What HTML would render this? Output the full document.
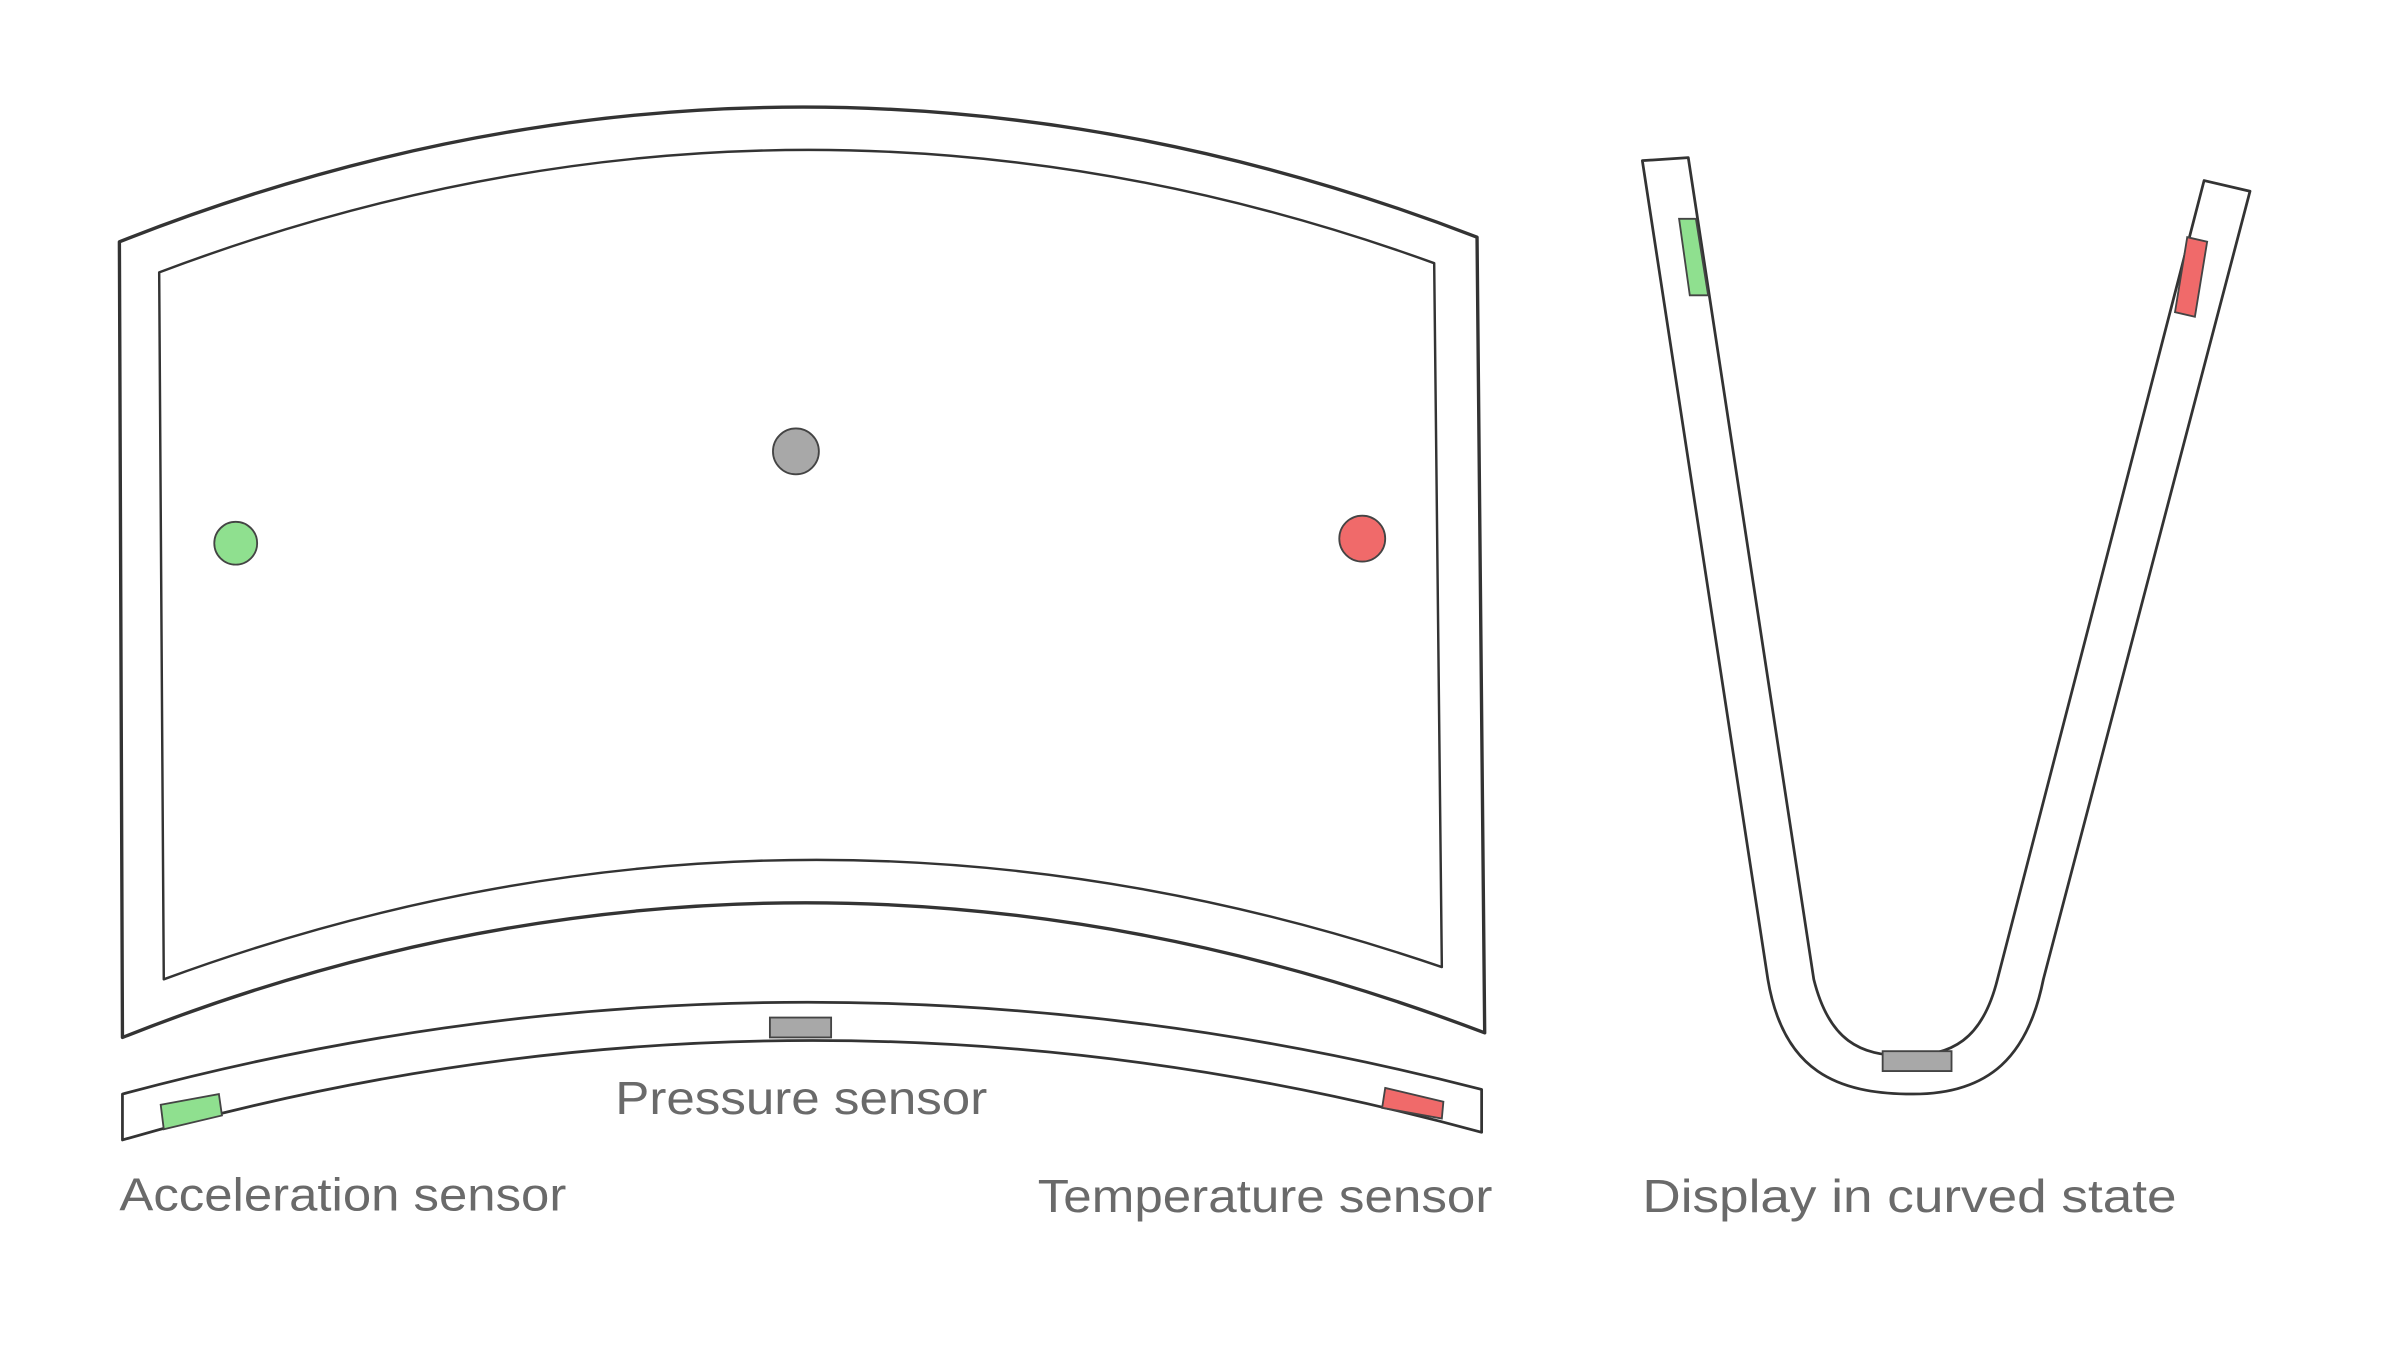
<!DOCTYPE html>
<html><head><meta charset="utf-8"><style>
html,body{margin:0;padding:0;background:#fff;}
svg{display:block;}
text{font-family:"Liberation Sans",sans-serif;fill:#6a6a6a;}
</style></head><body>
<svg width="2400" height="1345" viewBox="0 0 1568 879" preserveAspectRatio="none" xmlns="http://www.w3.org/2000/svg">
<g fill="none" stroke="#333" stroke-width="2.2" stroke-linejoin="round">
<path d="M78,158 Q520,-16.5 965,155 L970,675 Q520,503.5 80,678 Z"/>
<path d="M104,178 Q520,21 937,172 L942,632 Q520,488 107,640 Z" stroke-width="1.6"/>
<path d="M80,715 Q520,596.5 968,712 L968,740 Q520,617.5 80,745 Z" stroke-width="1.8"/>
<path d="M1073,105 L1155,640 C1165,700 1200,715 1250,715 C1300,715 1325,690 1335,640 L1470,125 L1440,118 L1305,640 C1295,680 1275,690 1245,690 C1215,690 1195,680 1185,640 L1103,103 Z" stroke-width="1.8"/>
</g>
<g stroke="#444" stroke-width="1.2">
<circle cx="520" cy="295" r="15" fill="#a8a8a8"/>
<circle cx="154" cy="355" r="14" fill="#8fe08f"/>
<circle cx="890" cy="352" r="15" fill="#f06a6a"/>
<rect x="503" y="665" width="40" height="13" fill="#a8a8a8"/>
<path d="M105,722 L143,715 L145,729 L107,738 Z" fill="#8fe08f"/>
<path d="M905,711 L943,720 L942,731 L903,724 Z" fill="#f06a6a"/>
<path d="M1230,687 L1275,687 L1275,700 L1230,700 Z" fill="#a8a8a8"/>
<path d="M1097,143 L1108,143 L1116,193 L1104,193 Z" fill="#8fe08f"/>
<path d="M1429,155 L1442,158 L1434,207 L1421,204 Z" fill="#f06a6a"/>
</g>
<text x="402" y="728" font-size="30" textLength="243" lengthAdjust="spacingAndGlyphs">Pressure sensor</text>
<text x="78" y="791" font-size="30" textLength="292" lengthAdjust="spacingAndGlyphs">Acceleration sensor</text>
<text x="678" y="792" font-size="30" textLength="297" lengthAdjust="spacingAndGlyphs">Temperature sensor</text>
<text x="1073" y="792" font-size="30" textLength="349" lengthAdjust="spacingAndGlyphs">Display in curved state</text>
</svg>
</body></html>
